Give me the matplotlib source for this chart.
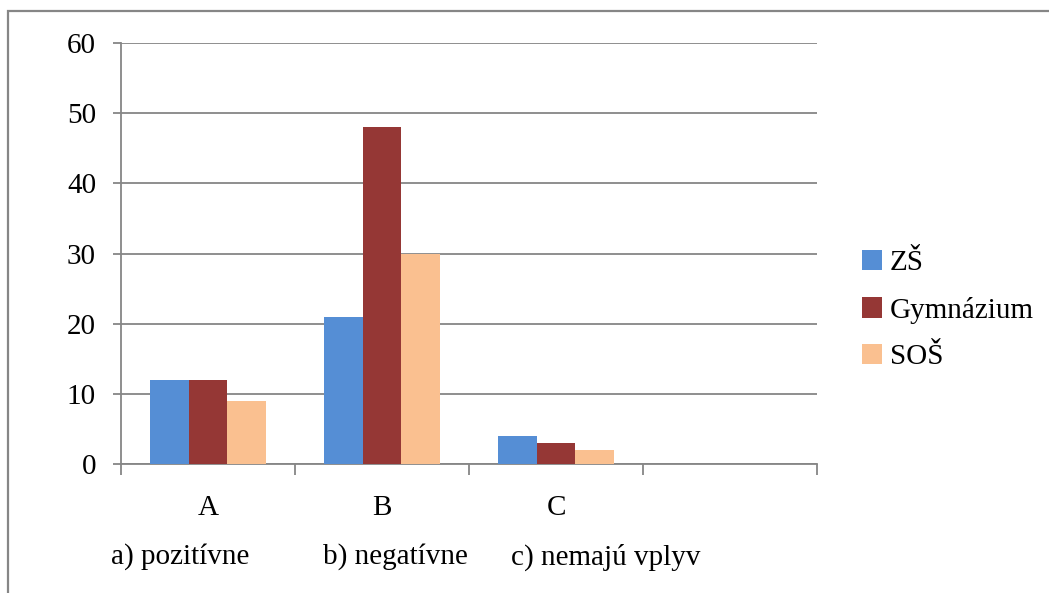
import matplotlib
matplotlib.use("Agg")
import matplotlib.pyplot as plt
import matplotlib.patches as mpatches
import numpy as np

categories = ["A", "B", "C", ""]
series_names = ["ZŠ", "Gymnázium", "SOŠ"]
zs = [12, 21, 4, np.nan]
gym = [12, 48, 3, np.nan]
sos = [9, 30, 2, np.nan]
colors = ["#558ED5", "#953735", "#FAC090"]
notes = ["a) pozitívne", "b) negatívne", "c) nemajú vplyv"]

plt.rcParams['font.family'] = ['Liberation Serif', 'DejaVu Serif']
FS = 21

fig = plt.figure(figsize=(10.49, 5.93), dpi=100)
ax = fig.add_axes([121/1049, 1-464/593, (817-121)/1049, (464-43)/593])

x = np.arange(len(categories))
w = 1/4.5
for i, (vals, name, c) in enumerate(zip([zs, gym, sos], series_names, colors)):
    ax.bar(x + (i-1)*w, vals, width=w, color=c, label=name, zorder=3)

ax.set_xlim(-0.5, len(categories)-0.5)
ax.set_ylim(0, 60)
ax.set_yticks(range(0, 61, 10))
ax.yaxis.grid(True, color="#868686", linewidth=1.3, zorder=0)
ax.set_axisbelow(True)
ax.set_xticks(np.arange(-0.5, len(categories), 1.0))
ax.set_xticklabels([])
ax.set_xticks(x, minor=True)
ax.set_xticklabels(categories, minor=True)
ax.tick_params(axis='x', which='major', length=8, width=1.3, color="#868686", direction='out')
ax.tick_params(axis='x', which='minor', length=0, pad=22, labelsize=FS)
ax.tick_params(axis='y', length=6, width=1.3, color="#868686", pad=12, labelsize=FS)
for s in ["top", "right"]:
    ax.spines[s].set_visible(False)
for s in ["left", "bottom"]:
    ax.spines[s].set_color("#868686")
    ax.spines[s].set_linewidth(1.3)

leg = fig.legend(loc="center left", bbox_to_anchor=(862/1049, 1-310/593), frameon=False,
                 fontsize=FS, handlelength=0.7, handleheight=0.7, handletextpad=0.25,
                 labelspacing=0.7, borderpad=0, borderaxespad=0)

note_x = [180, 395, 606]
for t, nx in zip(notes, note_x):
    fig.text(nx/1049, 1-557/593, t, ha="center", va="center", fontsize=FS)

frame = mpatches.Rectangle((8/1049, -0.2), 1.5, 1.2 - 11/593, transform=fig.transFigure,
                           fill=False, edgecolor="#868686", linewidth=1.6, clip_on=False)
fig.add_artist(frame)

fig.savefig("out.png", dpi=100)
